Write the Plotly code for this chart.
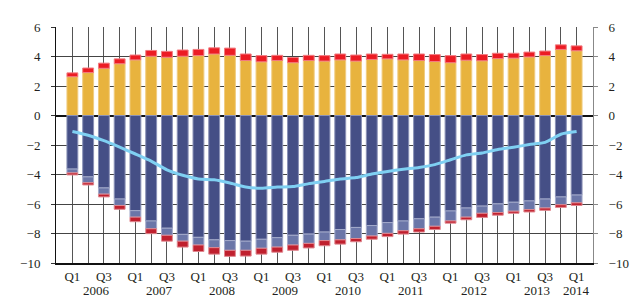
import plotly.graph_objects as go

quarters = list(range(33))
q_labels = [("Q1" if i % 4 == 0 else "Q3" if i % 4 == 2 else "") for i in quarters]
years = ["2006", "2007", "2008", "2009", "2010", "2011", "2012", "2013", "2014"]

pos_main = [2.63, 2.91, 3.20, 3.51, 3.77, 4.02, 3.95, 4.02, 4.06, 4.17,
            4.08, 3.73, 3.64, 3.73, 3.58, 3.73, 3.69, 3.77, 3.69, 3.80,
            3.84, 3.77, 3.73, 3.66, 3.58, 3.75, 3.71, 3.86, 3.89, 3.97,
            4.06, 4.48, 4.39]
pos_top = [0.26, 0.31, 0.35, 0.33, 0.33, 0.39, 0.40, 0.42, 0.42, 0.42,
           0.49, 0.44, 0.42, 0.35, 0.35, 0.35, 0.37, 0.40, 0.41, 0.37,
           0.31, 0.40, 0.44, 0.47, 0.48, 0.42, 0.42, 0.36, 0.33, 0.33,
           0.31, 0.31, 0.33]
neg_main = [-3.63, -4.16, -4.91, -5.66, -6.45, -7.15, -7.64, -8.06, -8.26, -8.43,
            -8.48, -8.52, -8.39, -8.28, -8.12, -8.04, -7.90, -7.73, -7.59, -7.46,
            -7.26, -7.15, -7.00, -6.89, -6.47, -6.27, -6.14, -5.99, -5.88, -5.79,
            -5.66, -5.52, -5.39]
neg_mid = [-0.26, -0.40, -0.42, -0.44, -0.44, -0.53, -0.48, -0.46, -0.52, -0.53,
           -0.66, -0.62, -0.61, -0.64, -0.66, -0.63, -0.58, -0.70, -0.75, -0.71,
           -0.73, -0.66, -0.68, -0.62, -0.68, -0.62, -0.49, -0.59, -0.61, -0.59,
           -0.61, -0.53, -0.53]
neg_bottom = [-0.14, -0.15, -0.19, -0.26, -0.31, -0.33, -0.40, -0.40, -0.44, -0.44,
              -0.41, -0.39, -0.40, -0.35, -0.36, -0.31, -0.35, -0.29, -0.22, -0.22,
              -0.22, -0.23, -0.22, -0.22, -0.15, -0.18, -0.28, -0.18, -0.14, -0.16,
              -0.16, -0.18, -0.18]
net_line = [-1.09, -1.34, -1.71, -2.15, -2.61, -3.09, -3.68, -4.05, -4.30, -4.36,
            -4.58, -4.85, -4.93, -4.85, -4.82, -4.62, -4.47, -4.30, -4.21, -3.97,
            -3.79, -3.64, -3.53, -3.33, -3.00, -2.67, -2.54, -2.30, -2.15, -1.97,
            -1.82, -1.27, -1.09]

FONT = "Liberation Serif, Times New Roman, serif"
fig = go.Figure()

def bar(vals, color, edge):
    fig.add_trace(go.Bar(x=quarters, y=vals, marker=dict(color=color, line=dict(color=edge, width=1)),
                         showlegend=False, hoverinfo="skip"))

bar(pos_main, "#e8b33e", "#f0cc80")
bar(pos_top, "#ec1c24", "#f27c80")
bar(neg_main, "#454f86", "#8a91b6")
bar(neg_mid, "#6b76a8", "#a4abcb")
bar(neg_bottom, "#c0202e", "#e08890")

fig.add_trace(go.Scatter(x=quarters, y=net_line, mode="lines",
                         line=dict(color="#7fd0f2", width=3, shape="spline", smoothing=0.5),
                         showlegend=False, hoverinfo="skip"))
fig.add_trace(go.Scatter(x=[0], y=[0], yaxis="y2", mode="markers",
                         marker=dict(opacity=0), showlegend=False, hoverinfo="skip"))

yticks = [6, 4, 2, 0, -2, -4, -6, -8, -10]
fig.update_layout(
    width=633, height=290,
    margin=dict(l=40, r=36, t=12, b=35),
    paper_bgcolor="white", plot_bgcolor="white",
    barmode="relative", bargap=0.31,
    font=dict(family=FONT, size=13, color="#231f20"),
    xaxis=dict(range=[-1.04, 33.04], tickvals=quarters, ticktext=q_labels,
               showgrid=True, gridcolor="#555555", gridwidth=1,
               showline=True, linecolor="#111111", linewidth=2,
               ticks="", zeroline=False, fixedrange=True),
    yaxis=dict(range=[-10, 6], tickvals=yticks, showgrid=True, gridcolor="#444444", gridwidth=1,
               zeroline=True, zerolinecolor="#111111", zerolinewidth=1.5,
               showline=True, linecolor="#111111", linewidth=1,
               ticks="outside", ticklen=4, tickcolor="#333333", ticklabelstandoff=8),
    yaxis2=dict(range=[-10, 6], tickvals=yticks, overlaying="y", side="right",
                showgrid=False, zeroline=False, showline=True, linecolor="#888888", linewidth=1,
                ticks="outside", ticklen=4, tickcolor="#888888", ticklabelstandoff=8),
)

year_pos = [1.5 + 4 * k for k in range(8)] + [32]
for yr, xp in zip(years, year_pos):
    fig.add_annotation(x=xp, y=0, xref="x", yref="paper", text=yr, showarrow=False,
                       yanchor="middle", yshift=-27, font=dict(family=FONT, size=13, color="#231f20"))

fig.write_html("out.html")
